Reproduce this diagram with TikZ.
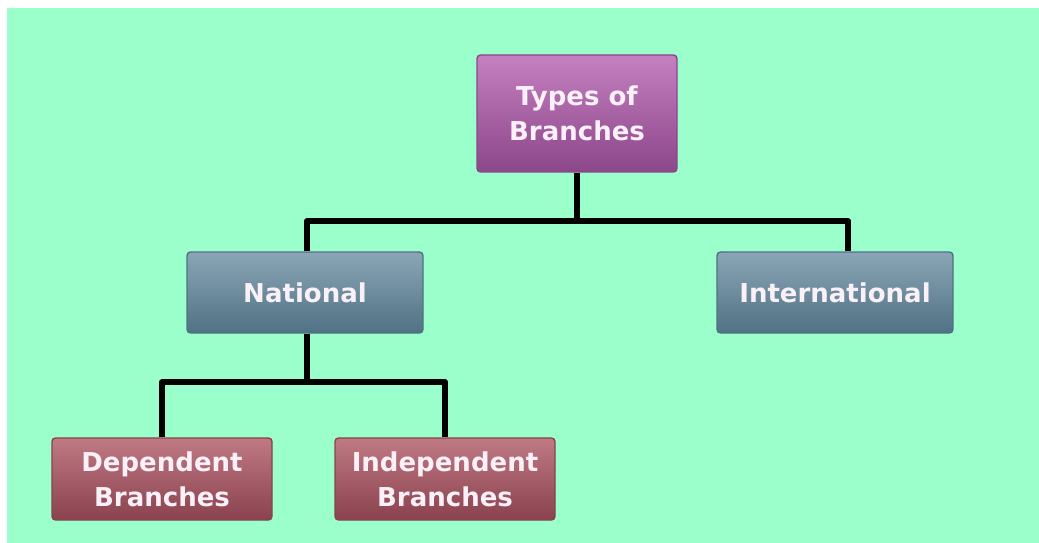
\documentclass[tikz,border=0pt]{standalone}
\usepackage{fontspec}
\setmainfont{DejaVu Sans}
\usepackage{tikz}
\usetikzlibrary{positioning,calc}

\definecolor{mintbg}{RGB}{155,255,204}
\definecolor{rootface}{RGB}{178,98,174}
\definecolor{rootlight}{RGB}{196,128,192}
\definecolor{rootdark}{RGB}{140,70,138}
\definecolor{natface}{RGB}{104,142,160}
\definecolor{natlight}{RGB}{138,166,182}
\definecolor{natdark}{RGB}{80,114,132}
\definecolor{brface}{RGB}{172,92,104}
\definecolor{brlight}{RGB}{192,122,132}
\definecolor{brdark}{RGB}{138,66,78}
\definecolor{labeltext}{RGB}{250,240,248}

\begin{document}
\begin{tikzpicture}[
  font=\fontsize{14.8}{20}\selectfont\bfseries,
  box/.style={
    rounded corners=2pt,
    align=center,
    text=labeltext,
    inner sep=0pt,
    line width=0.8pt
  },
  rootbox/.style={
    box,
    draw=rootdark,
    top color=rootlight,
    middle color=rootface,
    bottom color=rootdark,
    minimum width=4.0cm,
    minimum height=2.34cm
  },
  levelbox/.style={
    box,
    draw=natdark,
    top color=natlight,
    middle color=natface,
    bottom color=natdark,
    minimum width=4.72cm,
    minimum height=1.62cm
  },
  leafbox/.style={
    box,
    draw=brdark,
    top color=brlight,
    middle color=brface,
    bottom color=brdark,
    minimum width=4.4cm,
    minimum height=1.64cm
  },
  link/.style={
    line width=3.6pt,
    line join=round,
    black
  }
]

% frame and background
\useasboundingbox (0,0) rectangle (20.78,-10.86);
\fill[white] (0,0) rectangle (20.78,-10.86);
\fill[mintbg] (0.14,-0.16) rectangle (20.9,-11.0);

%-----------------------------
% Boxes
%-----------------------------
\node[rootbox]  (root) at (11.54,-2.27) {Types of\\Branches};
\node[levelbox] (national) at (6.10,-5.85) {National};
\node[levelbox] (international) at (16.70,-5.85) {International};
\node[leafbox]  (dependent) at (3.24,-9.58) {Dependent\\Branches};
\node[leafbox]  (independent) at (8.90,-9.58) {Independent\\Branches};

%-----------------------------
% Connectors
%-----------------------------
\draw[link] (root.south) -- ++(0,-1.0);
\draw[link] ([xshift=0.04cm]national.north) -- ++(0,0.6) -| ([xshift=0.26cm]international.north);
\draw[link] ([xshift=0.04cm]national.south) -- ++(0,-1.0);
\draw[link] (dependent.north) -- ++(0,1.1) -| (independent.north);

\end{tikzpicture}
\end{document}
